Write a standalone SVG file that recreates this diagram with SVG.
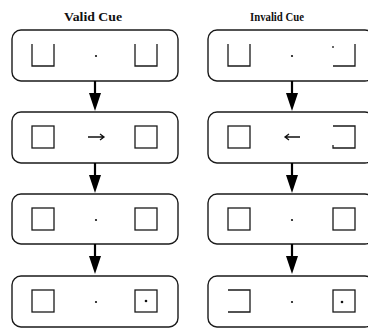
<svg xmlns="http://www.w3.org/2000/svg" width="368" height="328" viewBox="0 0 368 328">
  <style>
    .title { font-family: "Liberation Serif", "DejaVu Serif", serif; font-weight: bold; font-size: 11.5px; fill: #111; }
    .panel { fill: none; stroke: #1a1a1a; stroke-width: 1.4; }
    .box { fill: none; stroke: #1a1a1a; stroke-width: 1.3; }
    .dot { fill: #111; }
    .cue { fill: none; stroke: #111; stroke-width: 1.3; }
    .shaft { stroke: #000; stroke-width: 2.2; }
    .head { fill: #000; }
  </style>
  <defs>
    <!-- downward block arrow joining two stacked frames -->
    <g id="step-arrow">
      <line class="shaft" x1="0" y1="0" x2="0" y2="13"/>
      <polygon class="head" points="-6,12 6,12 0,30"/>
    </g>
  </defs>
  <rect width="368" height="328" fill="#fff"/>

  <text class="title" x="93" y="21" text-anchor="middle" textLength="58" lengthAdjust="spacingAndGlyphs">Valid Cue</text>
  <text class="title" x="277" y="21" text-anchor="middle" textLength="54" lengthAdjust="spacingAndGlyphs">Invalid Cue</text>

  <!-- Valid cue column -->
  <g id="valid-fixation">
    <rect class="panel" x="12" y="30" width="166" height="51" rx="9"/>
    <path class="box" d="M32,44 V66 H54 V44"/>
    <path class="box" d="M135,44 V66 H157 V44"/>
    <circle class="dot" cx="96" cy="56" r="1.1"/>
  </g>
  <g id="valid-cue">
    <rect class="panel" x="12" y="112" width="166" height="51" rx="9"/>
    <rect class="box" x="32" y="126" width="22" height="22"/>
    <rect class="box" x="135" y="126" width="22" height="22"/>
    <path class="cue" d="M88,137 H104 M100,134 L104,137 L100,140"/>
  </g>
  <g id="valid-delay">
    <rect class="panel" x="12" y="194" width="166" height="50" rx="9"/>
    <rect class="box" x="32" y="208" width="22" height="22"/>
    <rect class="box" x="135" y="208" width="22" height="22"/>
    <circle class="dot" cx="96" cy="220" r="1.1"/>
  </g>
  <g id="valid-target">
    <rect class="panel" x="12" y="276" width="166" height="51" rx="9"/>
    <rect class="box" x="32" y="290" width="22" height="22"/>
    <rect class="box" x="135" y="290" width="22" height="22"/>
    <circle class="dot" cx="96" cy="302" r="1.1"/>
    <circle class="dot" cx="146" cy="301" r="1.3"/>
  </g>

  <!-- Invalid cue column -->
  <g id="invalid-fixation">
    <rect class="panel" x="208" y="30" width="166" height="51" rx="9"/>
    <path class="box" d="M228,44 V66 H250 V44"/>
    <path class="box" d="M333,46 V48 M333,66 H355 V44"/>
    <circle class="dot" cx="292" cy="56" r="1.1"/>
  </g>
  <g id="invalid-cue">
    <rect class="panel" x="208" y="112" width="166" height="51" rx="9"/>
    <rect class="box" x="228" y="126" width="22" height="22"/>
    <path class="box" d="M333,126 H355 V148 H333 V145"/>
    <path class="cue" d="M300,137 H285 M289,134 L285,137 L289,140"/>
  </g>
  <g id="invalid-delay">
    <rect class="panel" x="208" y="194" width="166" height="50" rx="9"/>
    <rect class="box" x="228" y="208" width="22" height="22"/>
    <rect class="box" x="333" y="208" width="22" height="22"/>
    <circle class="dot" cx="292" cy="220" r="1.1"/>
  </g>
  <g id="invalid-target">
    <rect class="panel" x="208" y="276" width="166" height="51" rx="9"/>
    <path class="box" d="M228,290 H250 V312 H228"/>
    <rect class="box" x="333" y="290" width="22" height="22"/>
    <circle class="dot" cx="292" cy="302" r="1.1"/>
    <circle class="dot" cx="342" cy="302" r="1.3"/>
  </g>

  <!-- connectors between successive frames -->
  <g id="connectors">
    <use href="#step-arrow" x="95" y="81"/>
    <use href="#step-arrow" x="95" y="163"/>
    <use href="#step-arrow" x="95" y="244"/>
    <use href="#step-arrow" x="292" y="81"/>
    <use href="#step-arrow" x="292" y="163"/>
    <use href="#step-arrow" x="292" y="244"/>
  </g>
</svg>
